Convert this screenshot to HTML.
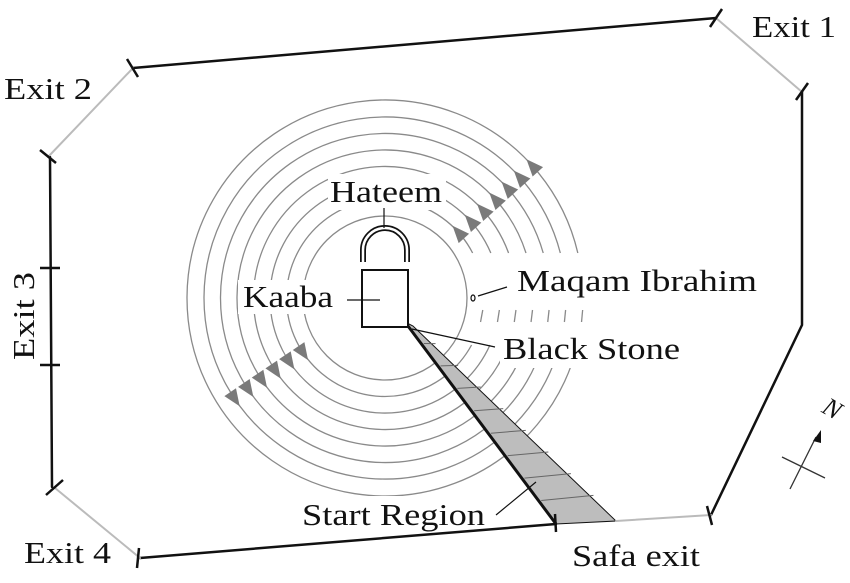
<!DOCTYPE html>
<html><head><meta charset="utf-8"><style>
html,body{margin:0;padding:0;background:#fff}
svg{display:block}
text{font-family:"Liberation Serif",serif;fill:#111}
</style></head><body>
<svg width="850" height="583" viewBox="0 0 850 583">
<g id="rings"></g>
<g id="arrows"></g>

<rect x="328" y="174" width="118" height="36" fill="#fff"/>
<rect x="238" y="280" width="100" height="34" fill="#fff"/>
<rect x="515" y="262" width="245" height="36" fill="#fff"/>
<rect x="500" y="332" width="185" height="36" fill="#fff"/>
<rect x="298" y="496" width="190" height="36" fill="#fff"/>

<polygon points="405,322 413,326 616,521 556,524" fill="#bdbdbd" stroke="#111" stroke-width="1"/>
<line x1="405" y1="322" x2="556" y2="524" stroke="#111" stroke-width="3"/>
<g id="wedgeticks" stroke="#666" stroke-width="1"></g>

<rect x="362" y="270" width="46" height="57" fill="#fff" stroke="#111" stroke-width="2"/>
<path d="M363,262 L363,250 A22,22 0 0 1 407,250 L407,262" fill="none" stroke="#111" stroke-width="6"/>
<path d="M363,262 L363,250 A22,22 0 0 1 407,250 L407,262" fill="none" stroke="#fff" stroke-width="2.5"/>
<line x1="384" y1="228" x2="384" y2="208" stroke="#111" stroke-width="1.2"/>
<ellipse cx="473" cy="298" rx="2" ry="3" fill="none" stroke="#111" stroke-width="1.2"/>
<line x1="478" y1="296" x2="507" y2="287" stroke="#111" stroke-width="1.2"/>
<line x1="347" y1="300" x2="380" y2="300" stroke="#111" stroke-width="1.2"/>
<line x1="412" y1="329" x2="495" y2="347" stroke="#111" stroke-width="1.2"/>
<line x1="496" y1="515" x2="536" y2="482" stroke="#111" stroke-width="1.2"/>

<text x="330" y="202" font-size="31" textLength="112" lengthAdjust="spacingAndGlyphs">Hateem</text>
<text x="243" y="307" font-size="31" textLength="90" lengthAdjust="spacingAndGlyphs">Kaaba</text>
<text x="517" y="291" font-size="31" textLength="240" lengthAdjust="spacingAndGlyphs">Maqam Ibrahim</text>
<text x="503" y="359" font-size="31" textLength="177" lengthAdjust="spacingAndGlyphs">Black Stone</text>
<text x="302" y="525" font-size="31" textLength="183" lengthAdjust="spacingAndGlyphs">Start Region</text>

<g stroke-linecap="round">
<line x1="133" y1="68" x2="716" y2="18" stroke="#111" stroke-width="2.5"/>
<line x1="716" y1="18" x2="802" y2="92" stroke="#bbb" stroke-width="2"/>
<polyline points="802,92 802,325 711,515" fill="none" stroke="#111" stroke-width="2.5"/>
<line x1="711" y1="515" x2="616" y2="521" stroke="#bbb" stroke-width="2"/>
<line x1="556" y1="524" x2="140" y2="558" stroke="#111" stroke-width="2.5"/>
<line x1="140" y1="558" x2="55" y2="488" stroke="#bbb" stroke-width="2"/>
<line x1="52" y1="487" x2="50" y2="157" stroke="#111" stroke-width="2.5"/>
<line x1="48" y1="157" x2="133" y2="68" stroke="#bbb" stroke-width="2"/>
</g>
<g stroke="#111" stroke-width="2.5">
<line x1="127" y1="59" x2="138" y2="77"/>
<line x1="710" y1="27" x2="722" y2="9"/>
<line x1="796" y1="100" x2="808" y2="83"/>
<line x1="707" y1="506" x2="712" y2="525"/>
<line x1="555" y1="514" x2="556" y2="532"/>
<line x1="139" y1="548" x2="137" y2="568"/>
<line x1="46" y1="495" x2="63" y2="480"/>
<line x1="40" y1="150" x2="56" y2="163"/>
<line x1="40" y1="268" x2="60" y2="268"/>
<line x1="40" y1="365" x2="60" y2="365"/>
</g>
<text x="752" y="37" font-size="31" textLength="84" lengthAdjust="spacingAndGlyphs">Exit 1</text>
<text x="4" y="99" font-size="31" textLength="88" lengthAdjust="spacingAndGlyphs">Exit 2</text>
<text x="0" y="0" font-size="31" text-anchor="middle" textLength="88" lengthAdjust="spacingAndGlyphs" transform="translate(34,316) rotate(-90)">Exit 3</text>
<text x="24" y="563" font-size="31" textLength="87" lengthAdjust="spacingAndGlyphs">Exit 4</text>
<text x="572" y="566" font-size="31" textLength="128" lengthAdjust="spacingAndGlyphs">Safa exit</text>

<g stroke="#333" stroke-width="1.3">
<line x1="790" y1="489" x2="816" y2="437"/>
<line x1="782" y1="457" x2="825" y2="478"/>
</g>
<polygon points="821,430 813,441 821,443" fill="#111"/>
<text x="0" y="0" font-size="26" font-style="italic" transform="translate(828,416) rotate(30)" text-anchor="middle">N</text>

<script>
const ringRadii = [82, 98.5, 115, 131.5, 148, 164.5, 181, 198];
const arrowRingsNE = [1, 2, 3, 4, 5, 6, 7];
const arrowRingsSW = [1, 2, 3, 4, 5, 6];
const cx = 385, cy = 298;
const ns = "http://www.w3.org/2000/svg";
const rings = document.getElementById('rings');
const gapTopY = 253, gapBotY = 345, dashTopY = 310, dashBotY = 322;
function pt(r, deg) { const a = deg * Math.PI / 180; return [cx + r * Math.cos(a), cy + r * Math.sin(a)]; }
function angY(r, y) { return Math.asin((y - cy) / r) * 180 / Math.PI; }
ringRadii.forEach((r, i) => {
  if (i === 0) {
    const c = document.createElementNS(ns, 'circle');
    
    
    c.setAttribute('cx', cx); c.setAttribute('cy', cy); c.setAttribute('r', r);
    c.setAttribute('fill', 'none'); c.setAttribute('stroke', '#8a8a8a'); c.setAttribute('stroke-width', '1.3');
    rings.appendChild(c);
    return;
  }
  const gs = angY(r, gapTopY), ge = angY(r, gapBotY);
  const s = pt(r, ge), e = pt(r, gs + 360);
  const p = document.createElementNS(ns, 'path');
  
  
  p.setAttribute('d', `M${s[0]},${s[1]} A${r},${r} 0 1 1 ${e[0]},${e[1]}`);
  p.setAttribute('fill', 'none'); p.setAttribute('stroke', '#8a8a8a'); p.setAttribute('stroke-width', '1.3');
  rings.appendChild(p);
  const d1 = pt(r, angY(r, dashTopY)), d2 = pt(r, angY(r, dashBotY));
  const l = document.createElementNS(ns, 'line');
  
  
  l.setAttribute('x1', d1[0]); l.setAttribute('y1', d1[1]); l.setAttribute('x2', d2[0]); l.setAttribute('y2', d2[1]);
  l.setAttribute('stroke', '#8a8a8a'); l.setAttribute('stroke-width', '1.3');
  rings.appendChild(l);
});
const arrows = document.getElementById('arrows');
function addArrow(r, angDeg, dir) {
  const a = angDeg * Math.PI / 180;
  const x = cx + r * Math.cos(a), y = cy + r * Math.sin(a);
  const tx = -Math.sin(a) * dir, ty = Math.cos(a) * dir;
  const nx = Math.cos(a), ny = Math.sin(a);
  const L = 17, W = 7;
  const p = [[x + tx * L / 2, y + ty * L / 2], [x - tx * L / 2 + nx * W, y - ty * L / 2 + ny * W], [x - tx * L / 2 - nx * W, y - ty * L / 2 - ny * W]];
  const t = document.createElementNS(ns, 'polygon');
  
  
  t.setAttribute('points', p.map(q => q.join(',')).join(' '));
  t.setAttribute('fill', '#7a7a7a');
  arrows.appendChild(t);
}
arrowRingsNE.forEach(i => addArrow(ringRadii[i], -42, -1));
arrowRingsSW.forEach(i => addArrow(ringRadii[i], 146, -1));
const wt = document.getElementById('wedgeticks');
for (let i = 1; i <= 8; i++) {
  const f = i / 9;
  const x1 = 405 + (556 - 405) * f, y1 = 322 + (524 - 322) * f;
  const x2 = 413 + (616 - 413) * f, y2 = 326 + (521 - 326) * f;
  const l = document.createElementNS(ns, 'line');
  
  
  l.setAttribute('x1', x1 + 2); l.setAttribute('y1', y1 - 1);
  l.setAttribute('x2', x2); l.setAttribute('y2', y2 - 4);
  wt.appendChild(l);
}
</script>
</svg>
</body></html>
